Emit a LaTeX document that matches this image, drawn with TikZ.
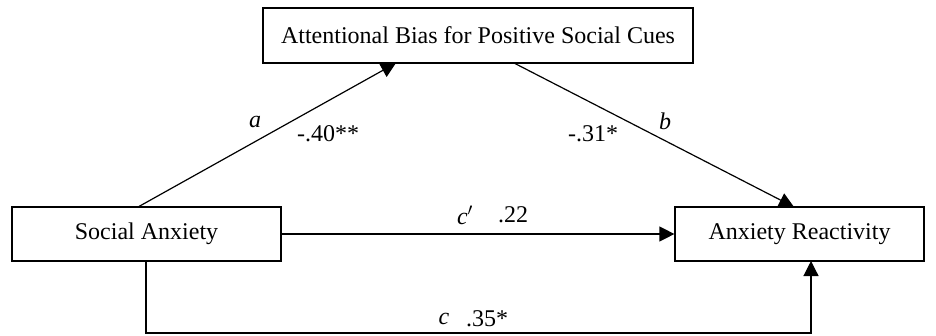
\documentclass[tikz,border=0pt]{standalone}
\usepackage{fontspec}
\setmainfont{Liberation Serif}
\usetikzlibrary{arrows.meta}
\begin{document}
\begin{tikzpicture}[x=1pt,y=-1pt,
  box/.style={draw,line width=1.2pt,inner sep=0pt,font=\fontsize{24}{28}\selectfont},
  conn/.style={line width=1.2pt},
  arr/.style={conn,-{Triangle[length=15pt,width=15pt]}},
  lab/.style={font=\fontsize{24}{28}\selectfont,inner sep=0pt}]
\useasboundingbox (0,0) rectangle (936,335);
\node[box,minimum width=430pt,minimum height=55pt] (m) at (478,35.5) {Attentional Bias for Positive Social Cues};
\node[box,minimum width=269pt,minimum height=54pt] (x) at (146.5,234) {Social Anxiety};
\node[box,minimum width=249pt,minimum height=54pt] (y) at (799.5,234) {Anxiety Reactivity};
\coordinate (xa) at (138,207);
\coordinate (ma) at (396,63);
\coordinate (mb) at (514,63);
\coordinate (yb) at (794,207);
\draw[arr] (xa) -- (ma);
\draw[arr] (mb) -- (yb);
\draw[arr] (x.east) -- (y.west);
\coordinate (xb) at (146,261);
\coordinate (yc) at (811,261);
\draw[arr] (xb) -- (146,333) -| (yc);
\node[lab] (la) at (255,122) {\textit{a}};
\node[lab] (va) at (328,134) {-.40**};
\node[lab] (lb) at (665,121) {\textit{b}};
\node[lab] (vb) at (593,134) {-.31*};
\node[lab] (lcp) at (465,215) {\textit{c}$'$};
\node[lab] (vcp) at (513,215) {.22};
\node[lab] (lc) at (444,319) {\textit{c}};
\node[lab] (vc) at (487,319) {.35*};
\end{tikzpicture}
\end{document}
